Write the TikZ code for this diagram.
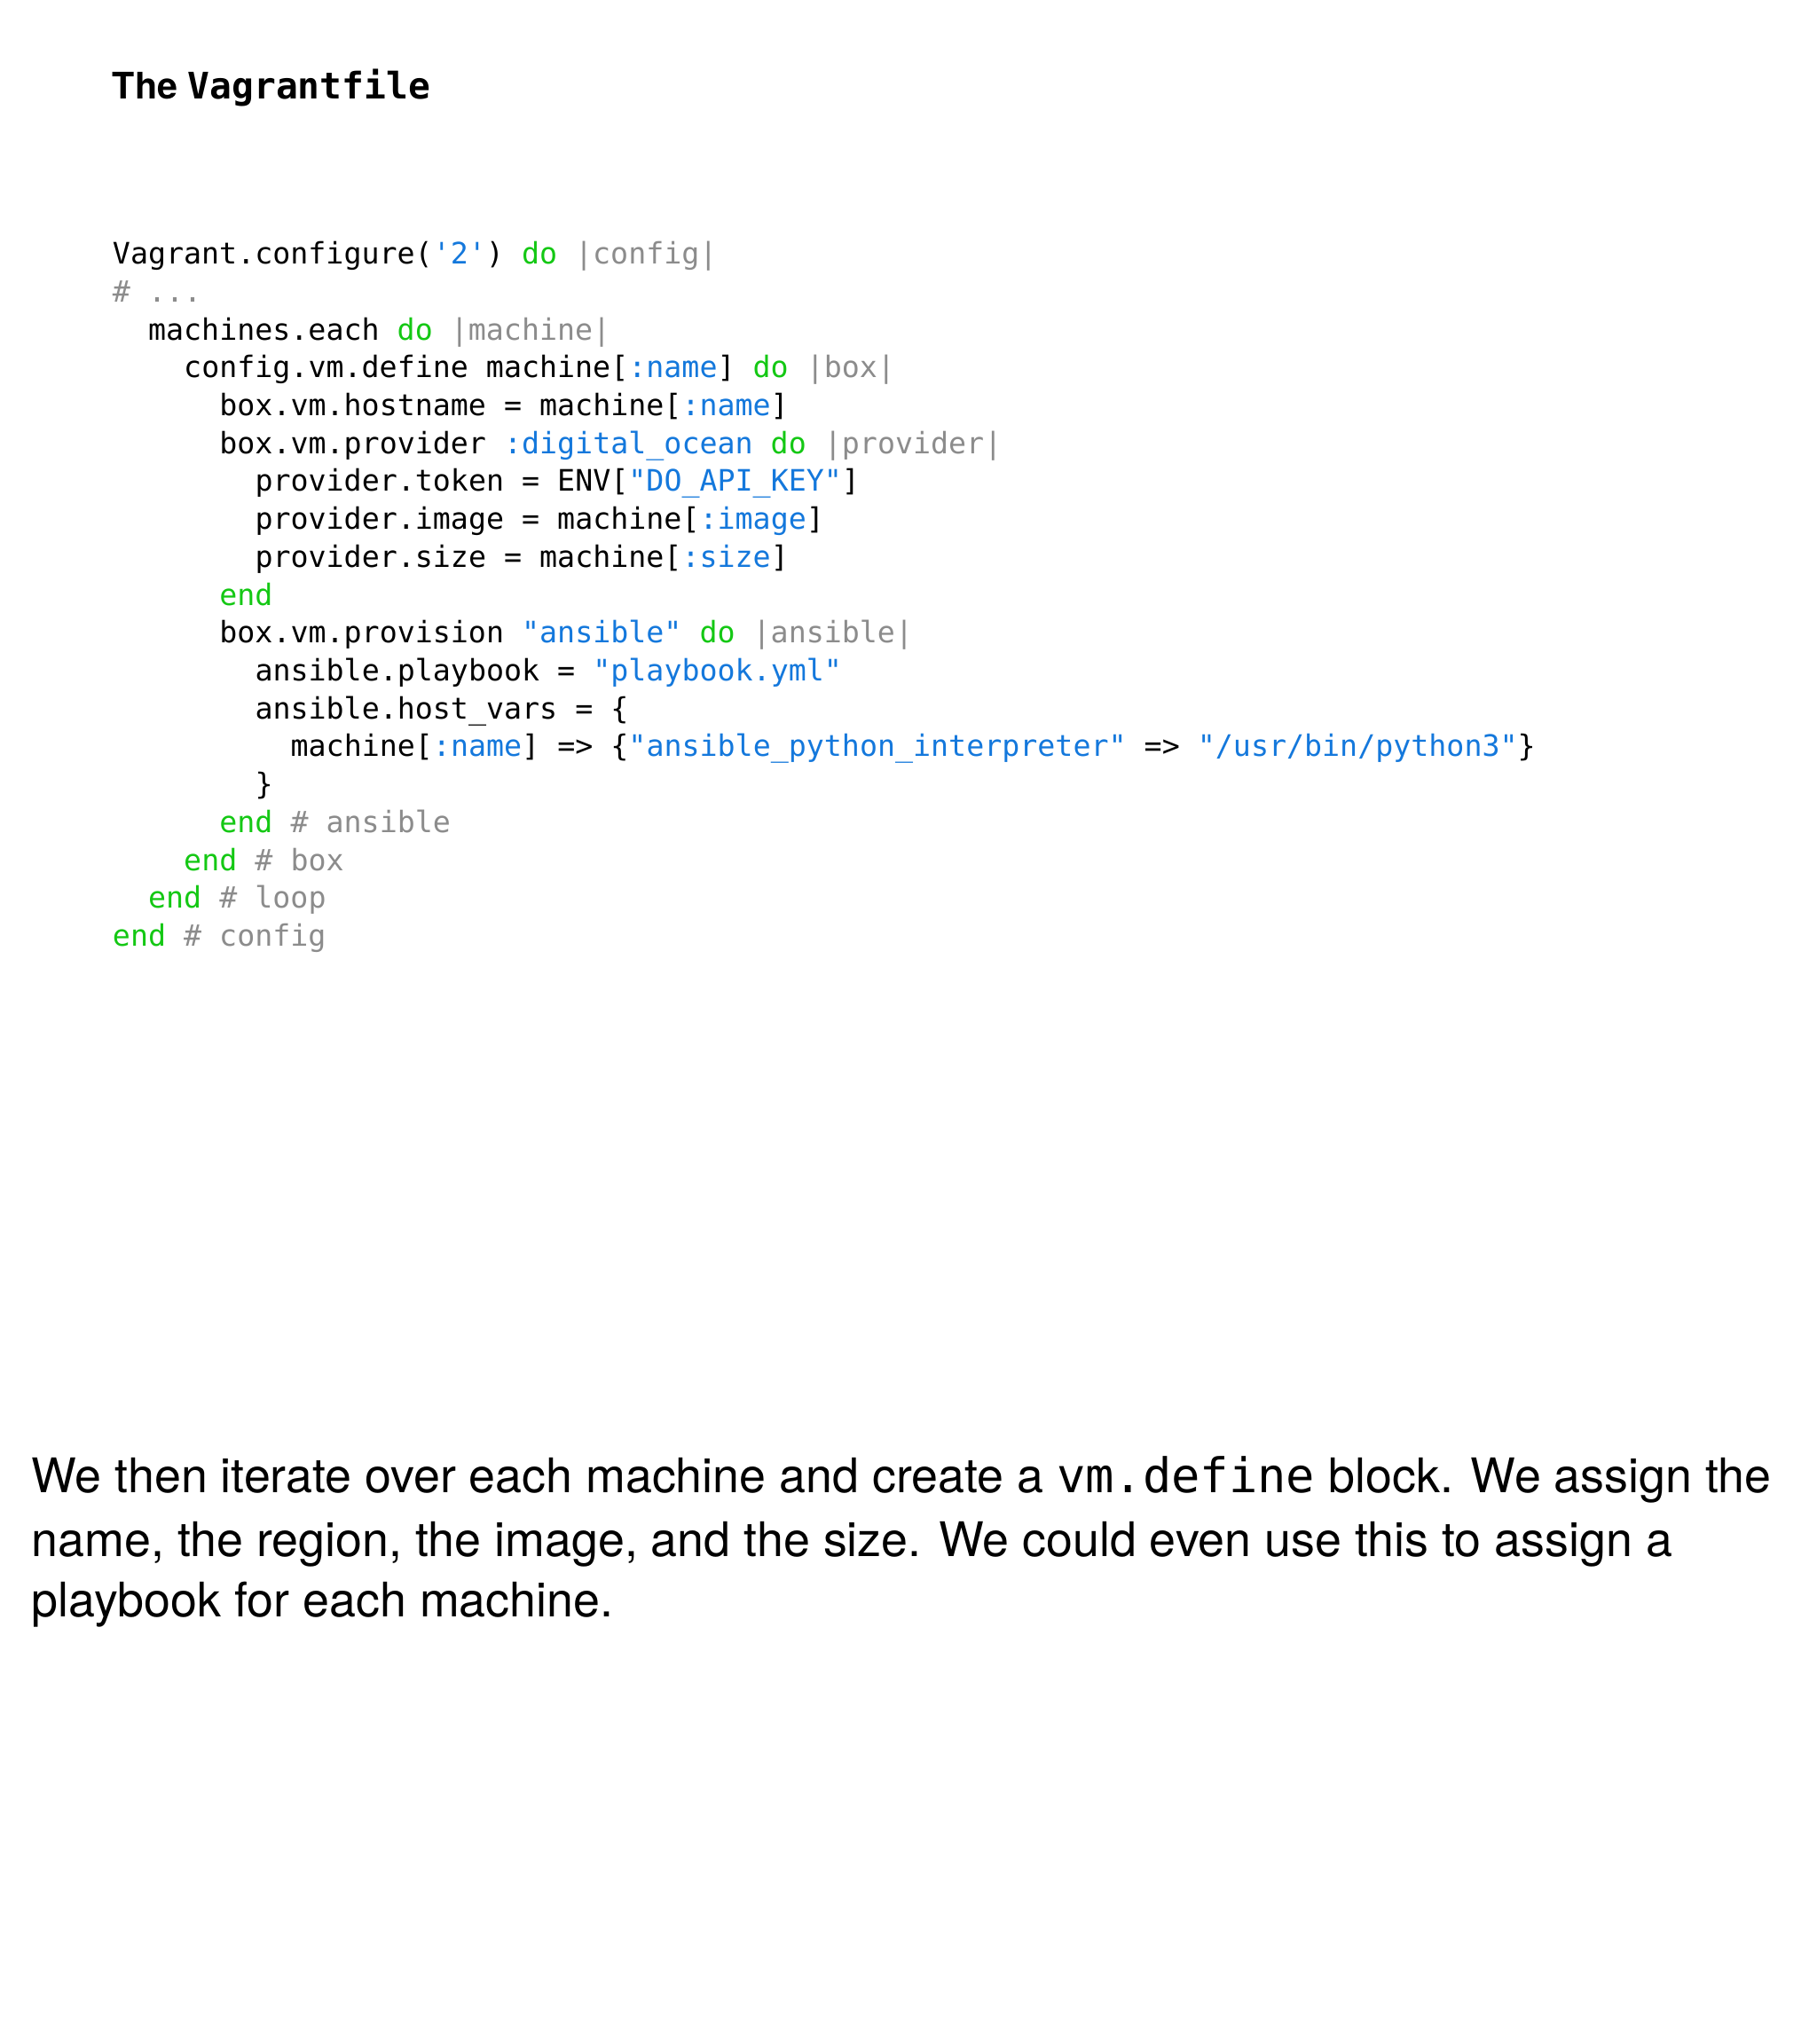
\documentclass[tikz,border=0pt]{standalone}
\usepackage{fontspec}
\setmainfont{TeX Gyre Heros}
\setmonofont{DejaVu Sans Mono}
\definecolor{kw}{RGB}{20,200,20}
\definecolor{st}{RGB}{20,120,220}
\definecolor{cm}{RGB}{140,140,140}
\newcommand{\K}[1]{\textcolor{kw}{#1}}
\newcommand{\B}[1]{\textcolor{st}{#1}}
\newcommand{\G}[1]{\textcolor{cm}{#1}}
\begin{document}
\begin{tikzpicture}[x=1pt,y=-1pt,
  code/.style={anchor=base west,inner sep=0pt,font=\fontsize{22.6}{29}\ttfamily},
  body/.style={anchor=base west,inner sep=0pt,font=\fontsize{36.5}{44}\selectfont}]
\fill[white] (0,0) rectangle (1390,1564);
\useasboundingbox (0,0) rectangle (1390,1564);
\node[anchor=base west,inner sep=0pt,font=\fontsize{28}{32}\selectfont\bfseries] (title) at (86,76) {The \texttt{Vagrantfile}};
\def\c{13.62}
\def\y#1{202+29*#1}
\node[code] (l0) at (86,{\y0}) {Vagrant.configure(\B{'2'}) \K{do} \G{|config|}};
\node[code] (l1) at (86,{\y1}) {\G{\# ...}};
\node[code] (l2) at ({86+2*\c},{\y2}) {machines.each \K{do} \G{|machine|}};
\node[code] (l3) at ({86+4*\c},{\y3}) {config.vm.define machine[\B{:name}] \K{do} \G{|box|}};
\node[code] (l4) at ({86+6*\c},{\y4}) {box.vm.hostname = machine[\B{:name}]};
\node[code] (l5) at ({86+6*\c},{\y5}) {box.vm.provider \B{:digital\_ocean} \K{do} \G{|provider|}};
\node[code] (l6) at ({86+8*\c},{\y6}) {provider.token = ENV[\B{"DO\_API\_KEY"}]};
\node[code] (l7) at ({86+8*\c},{\y7}) {provider.image = machine[\B{:image}]};
\node[code] (l8) at ({86+8*\c},{\y8}) {provider.size = machine[\B{:size}]};
\node[code] (l9) at ({86+6*\c},{\y9}) {\K{end}};
\node[code] (l10) at ({86+6*\c},{\y{10}}) {box.vm.provision \B{"ansible"} \K{do} \G{|ansible|}};
\node[code] (l11) at ({86+8*\c},{\y{11}}) {ansible.playbook = \B{"playbook.yml"}};
\node[code] (l12) at ({86+8*\c},{\y{12}}) {ansible.host\_vars = \{};
\node[code] (l13) at ({86+10*\c},{\y{13}}) {machine[\B{:name}] => \{\B{"ansible\_python\_interpreter"} => \B{"/usr/bin/python3"}\}};
\node[code] (l14) at ({86+8*\c},{\y{14}}) {\}};
\node[code] (l15) at ({86+6*\c},{\y{15}}) {\K{end} \G{\# ansible}};
\node[code] (l16) at ({86+4*\c},{\y{16}}) {\K{end} \G{\# box}};
\node[code] (l17) at ({86+2*\c},{\y{17}}) {\K{end} \G{\# loop}};
\node[code] (l18) at (86,{\y{18}}) {\K{end} \G{\# config}};
\node[body] (p1) at (24,1142) {We then iterate over each machine and create a {\ttfamily vm.define} block. We assign the};
\node[body] (p2) at (24,1191) {name, the region, the image, and the size. We could even use this to assign a};
\node[body] (p3) at (24,1237) {playbook for each machine.};
\end{tikzpicture}
\end{document}
